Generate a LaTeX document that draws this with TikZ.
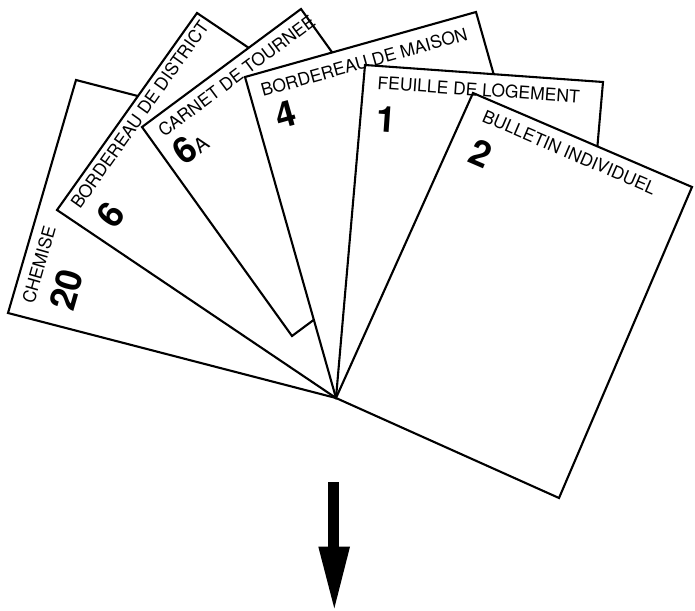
\documentclass[tikz,border=0pt]{standalone}
\usepackage{fontspec}
\setmainfont{TeX Gyre Heros}
\begin{document}
\begin{tikzpicture}[x=1pt,y=-1pt,
        card/.style={draw=black,fill=white,line width=2.1pt,line join=miter},
        cardtitle/.style={anchor=base west,inner sep=0pt,font=\fontsize{17.5}{19}\selectfont},
        cardnum/.style={anchor=base west,inner sep=0pt,font=\fontsize{36}{38}\selectfont\bfseries}]
        \useasboundingbox (0,0) rectangle (695,610);
        %扇形的中心
        \coordinate (O) at (336,398);
        %画卡片, 从后往前
        \filldraw[card] (O) -- (8,313) -- (76,80) -- (404,165) -- cycle;
        \filldraw[card] (O) -- (57,210) -- (197,13) -- (476,201) -- cycle;
        \filldraw[card] (292,336) -- (142,127) -- (301,9) -- (451,218) -- cycle;
        \filldraw[card] (O) -- (245,77) -- (476,12) -- (567,333) -- cycle;
        \filldraw[card] (O) -- (365,65) -- (603,82) -- (574,415) -- cycle;
        \filldraw[card] (O) -- (473,93) -- (692,187) -- (559,498) -- cycle;
        %标卡片名称和编号
        \node[cardtitle,rotate=74] (chemise) at (34,305) {CHEMISE};
        \node[cardnum,rotate=74] (n20) at (73,313) {20};
        \node[cardtitle,rotate=54.7] (district) at (80,210) {BORDEREAU DE DISTRICT};
        \node[cardnum,rotate=54.7] (n6) at (115,231) {6};
        \node[cardtitle,rotate=36.7] (tournee) at (164,138) {CARNET DE TOURNEE};
        \node[cardnum,rotate=36.7] (n6a) at (184,167) {6{\mdseries\fontsize{20}{21}\selectfont A}};
        \node[cardtitle,rotate=15.6] (maison) at (263,97) {BORDEREAU DE MAISON};
        \node[cardnum,rotate=15.6] (n4) at (279,130) {4};
        \node[cardtitle,rotate=-4] (logement) at (377,89) {FEUILLE DE LOGEMENT};
        \node[cardnum,rotate=-4] (n1) at (375,131) {1};
        \node[cardtitle,rotate=-23.3] (bulletin) at (481,121) {BULLETIN INDIVIDUEL};
        \node[cardnum,rotate=-23.3] (n2) at (466,161) {2};
        %画向下的箭头
        \fill (328,482) rectangle (339.3,548);
        \fill (318.3,546.7) -- (350,546.7) -- (334.3,608.3) -- cycle;
\end{tikzpicture}
\end{document}
